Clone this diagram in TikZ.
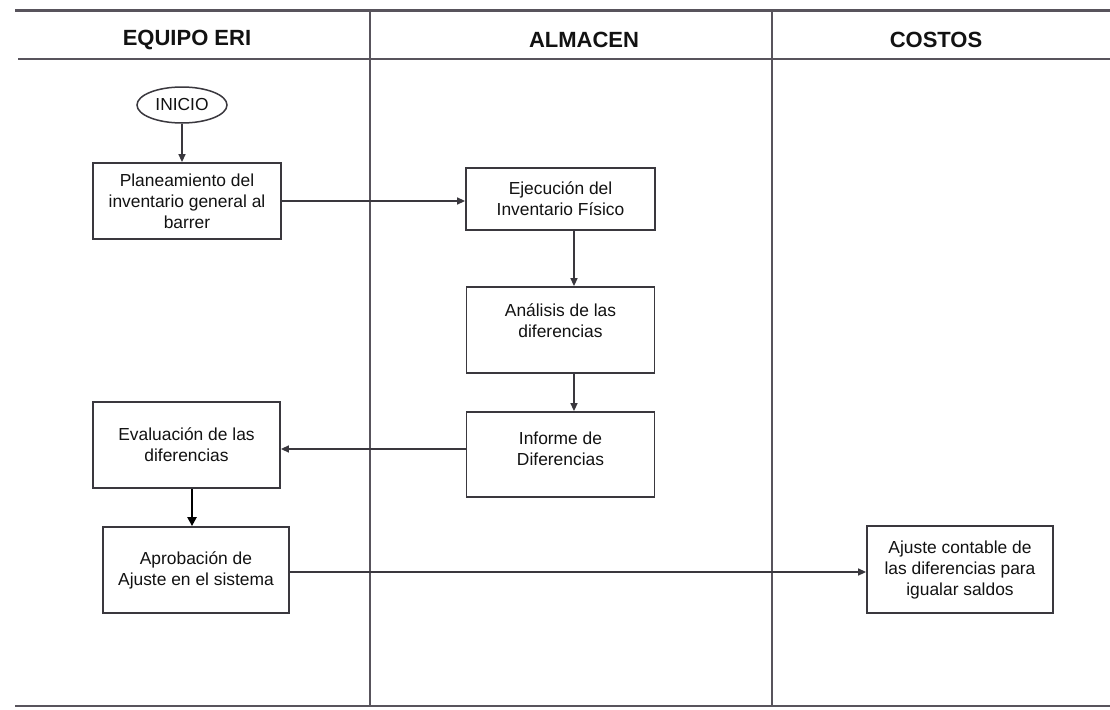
\documentclass[tikz,border=0pt]{standalone}
\usepackage{fontspec}
\setmainfont{Liberation Sans}
\usetikzlibrary{shapes.geometric,arrows.meta,calc}
\definecolor{lanegray}{RGB}{88,84,92}
\definecolor{boxgray}{RGB}{58,56,62}
\definecolor{ink}{RGB}{18,18,18}
\begin{document}
\begin{tikzpicture}[x=1pt,y=-1pt,
  lane/.style={draw=lanegray,line width=2.2pt},
  boxtext/.style={align=center,text=ink,font=\fontsize{17.4}{21}\selectfont,inner sep=0pt},
  procbox/.style={boxtext,draw=boxgray,line width=1.8pt,fill=white},
  term/.style={ellipse,draw=boxgray,line width=1.5pt,minimum width=90pt,minimum height=36pt,
    inner sep=0pt,text=ink,font=\fontsize{17.4}{21}\selectfont},
  head/.style={font=\bfseries\fontsize{22}{26}\selectfont,text=ink},
  flow/.style={draw=boxgray,line width=1.4pt,-{Triangle[length=8pt,width=7pt]}},
  thickflow/.style={draw=black,line width=2.6pt,-{Triangle[length=9pt,width=9pt]}}
]
\useasboundingbox (0,0) rectangle (1110,709);
\fill[white] (0,0) rectangle (1110,709);

% swim lanes
\draw[lane] (15,10.5) -- (1110,10.5);
\draw[lane] (18,59) -- (1110,59);
\draw[lane] (15,706) -- (1110,706);
\draw[lane] (370,10.5) -- (370,706);
\draw[lane] (772,10.5) -- (772,706);

\node[head] (h1) at (187,40) {EQUIPO ERI};
\node[head] (h2) at (584,40) {ALMACEN};
\node[head] (h3) at (936,40) {COSTOS};

% process steps
\node[term] (inicio) at (182,105) {INICIO};
\node[procbox,minimum width=188pt,minimum height=76pt] (plan) at (187,201)
  {Planeamiento del\\inventario general al\\barrer};
\node[procbox,minimum width=189pt,minimum height=62pt] (ejec) at (560.5,199)
  {Ejecución del\\Inventario Físico};
\node[procbox,minimum width=188pt,minimum height=86pt,
  label={[boxtext,yshift=9pt,name=analtext]center:{Análisis de las\\diferencias}}] (anal) at (560.5,330) {};
\node[procbox,minimum width=188pt,minimum height=85pt,
  label={[boxtext,yshift=5.5pt,name=inftext]center:{Informe de\\Diferencias}}] (inf) at (560.5,454.5) {};
\node[procbox,minimum width=187pt,minimum height=86pt] (eval) at (186.5,445)
  {Evaluación de las\\diferencias};
\node[procbox,minimum width=186pt,minimum height=86pt] (aprob) at (196,570)
  {Aprobación de\\Ajuste en el sistema};
\node[procbox,minimum width=186pt,minimum height=87pt] (ajuste) at (960,569.5)
  {Ajuste contable de\\las diferencias para\\igualar saldos};

% connectors
\draw[flow] (inicio.south) -- (inicio.south |- plan.north);
\draw[flow] (plan.east) -- (plan.east -| ejec.west);
\draw[flow] ([xshift=13.5pt]ejec.south) -- ([xshift=13.5pt]ejec.south |- anal.north);
\draw[flow] ([xshift=13.5pt]anal.south) -- ([xshift=13.5pt]anal.south |- inf.north);
\draw[flow] ([yshift=5.5pt]inf.west) -- ([yshift=5.5pt]inf.west -| eval.east);
\draw[thickflow] ([xshift=5.5pt]eval.south) -- ([xshift=5.5pt]eval.south |- aprob.north);
\draw[flow] ([yshift=-2pt]aprob.east) -- ([yshift=-2pt]aprob.east -| ajuste.west);
\end{tikzpicture}
\end{document}
